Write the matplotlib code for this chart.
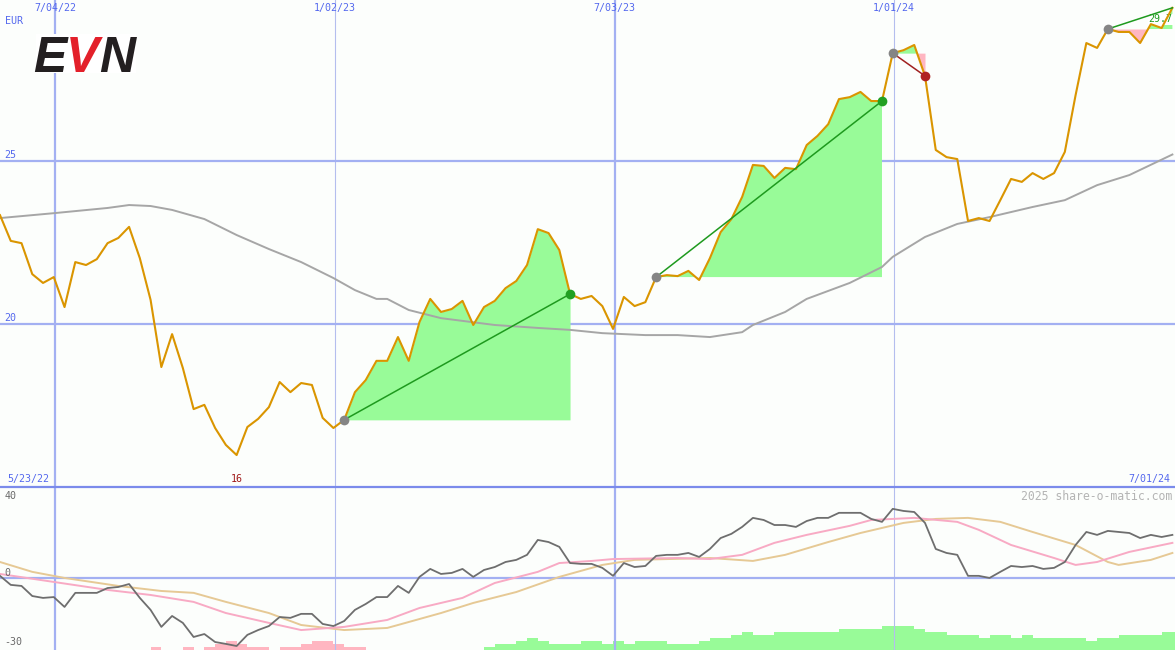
import numpy as np
import pandas as pd
import matplotlib
matplotlib.use('Agg')
import matplotlib.pyplot as plt
from matplotlib.lines import Line2D
from matplotlib.patches import Rectangle

W, H = 1175, 650

# weekly closing prices (EUR)
start = pd.Timestamp('2022-05-29')
close = [23.34, 22.55, 22.48, 21.53, 21.26, 21.44, 20.52, 21.90, 21.81, 21.99,
         22.48, 22.64, 22.98, 22.02, 20.74, 18.68, 19.69, 18.65, 17.39, 17.52,
         16.81, 16.29, 15.98, 16.84, 17.09, 17.45, 18.22, 17.91, 18.19, 18.13,
         17.12, 16.81, 17.06, 17.91, 18.28, 18.87, 18.87, 19.60, 18.87, 20.06,
         20.77, 20.37, 20.46, 20.71, 19.97, 20.52, 20.71, 21.10, 21.32, 21.81,
         22.91, 22.79, 22.27, 20.92, 20.77, 20.86, 20.55, 19.85, 20.83, 20.55,
         20.67, 21.44, 21.50, 21.47, 21.63, 21.35, 22.02, 22.82, 23.22, 23.90,
         24.88, 24.85, 24.48, 24.79, 24.75, 25.49, 25.77, 26.13, 26.90, 26.96,
         27.12, 26.84, 26.84, 28.31, 28.40, 28.56, 27.61, 25.34, 25.12, 25.06,
         23.16, 23.25, 23.16, 23.80, 24.45, 24.36, 24.63, 24.45, 24.63, 25.28,
         27.02, 28.62, 28.47, 29.05, 28.96, 28.96, 28.62, 29.20, 29.08, 29.70]
weeks = pd.date_range(start, periods=len(close), freq='7D')

# long moving average (grey), sampled at these weeks
ma_idx = [0, 5, 10, 12, 14, 16, 19, 22, 25, 28, 31, 33, 35, 36, 38, 41, 46, 50, 53, 56,
          60, 63, 66, 69, 70, 73, 75, 79, 82, 83, 86, 89, 92, 96, 99, 102, 105, 109]
ma_val = [23.25, 23.40, 23.56, 23.65, 23.62, 23.50, 23.22, 22.73, 22.30, 21.90, 21.41, 21.04,
          20.77, 20.77, 20.43, 20.18, 19.97, 19.88, 19.82, 19.72, 19.66, 19.66, 19.60, 19.75,
          19.97, 20.37, 20.77, 21.26, 21.75, 22.06, 22.67, 23.07, 23.28, 23.59, 23.80, 24.26,
          24.57, 25.20]

# trades: entry week, exit week, result
trades = [(32, 53, 'win'), (61, 82, 'win'), (83, 86, 'loss'), (103, 109, 'open')]

# lower panel: momentum (dark grey) per week
mom = [1.0, -3.3, -3.8, -8.6, -9.5, -9.1, -13.8, -7.1, -7.1, -7.1,
       -4.8, -4.3, -2.9, -9.5, -15.2, -23.3, -18.1, -21.4, -28.1, -26.7,
       -30.5, -31.4, -32.4, -27.1, -24.8, -22.9, -18.6, -19.0, -17.1, -17.1,
       -21.9, -22.9, -20.5, -15.2, -12.4, -9.1, -9.1, -3.8, -7.1, 0.5,
       4.3, 1.9, 2.4, 4.3, 0.5, 3.8, 5.2, 7.6, 8.6, 11.0,
       18.1, 17.1, 14.8, 7.1, 6.7, 6.7, 4.8, 1.0, 7.1, 5.2,
       5.7, 10.5, 11.0, 11.0, 11.9, 10.0, 13.8, 19.0, 21.0, 24.3,
       28.6, 27.6, 25.2, 25.2, 24.3, 27.1, 28.6, 28.6, 31.0, 31.0,
       31.0, 28.1, 26.7, 32.9, 31.9, 31.4, 26.2, 13.8, 11.9, 11.0,
       1.0, 1.0, 0.0, 2.9, 5.7, 5.2, 5.7, 4.3, 4.8, 7.6,
       15.7, 21.9, 20.5, 22.4, 21.9, 21.4, 19.0, 20.5, 19.5, 20.5]

pink_idx = [0, 5, 10, 14, 18, 21, 25, 28, 32, 36, 39, 43, 46, 50, 52, 55, 57, 63, 66, 69,
            72, 75, 79, 81, 85, 89, 91, 94, 98, 100, 102, 105, 109]
pink_val = [1.9, -1.9, -5.7, -8.1, -11.4, -16.7, -21.4, -24.8, -23.3, -20.0, -14.3, -9.5,
            -2.4, 2.9, 7.1, 8.1, 9.0, 9.5, 9.0, 11.0, 16.7, 20.5, 24.8, 27.6, 28.6, 26.7,
            22.9, 15.7, 9.5, 6.2, 7.6, 12.4, 16.7]

tan_idx = [0, 3, 6, 11, 15, 18, 21, 25, 28, 32, 36, 37, 41, 44, 48, 52, 56, 59, 66, 70,
           73, 77, 80, 84, 87, 90, 93, 96, 100, 103, 104, 107, 109]
tan_val = [7.6, 2.9, 0.0, -3.8, -6.2, -7.1, -11.4, -16.7, -22.4, -24.8, -23.8, -22.4,
           -16.7, -11.9, -6.7, 0.5, 6.2, 8.6, 9.5, 8.1, 11.0, 17.1, 21.4, 26.2, 28.1, 28.6,
           26.7, 21.9, 15.7, 7.6, 6.2, 8.6, 11.9]

# histogram blocks at the bottom (+ green / - pink)
hist = [0] * 14 + [-1, 0, 0, -1, 0, -1, -2, -3, -2, -1, -1, 0, -1, -1, -2, -3, -3, -2, -1, -1] \
    + [0] * 11 + [1, 2, 2, 3, 4, 3, 2, 2, 2, 3, 3, 2, 3, 2, 3, 3, 3, 2, 2, 2, 3, 4, 4, 5, 6,
                  5, 5, 6, 6, 6, 6, 6, 6, 7, 7, 7, 7, 8, 8, 8, 7, 6, 6, 5, 5, 5, 4, 5, 5, 4,
                  5, 4, 4, 4, 4, 4, 3, 4, 4, 5, 5, 5, 5, 6, 6]

thick_dates = ['2022-07-04', '2023-07-03']
thin_dates = ['2023-01-02', '2024-01-01']
top_labels = {'2022-07-04': '7/04/22', '2023-01-02': '1/02/23',
              '2023-07-03': '7/03/23', '2024-01-01': '1/01/24'}

BG = '#FCFEFC'
GRID = '#A3B0F2'
GRID_THIN = '#B4BEEE'
LABEL = '#5468EE'
MONO = 'DejaVu Sans Mono'

xlim = (start, start + pd.Timedelta(days=764.7))

fig = plt.figure(figsize=(W / 100, H / 100), dpi=100)
fig.patch.set_facecolor(BG)

split = 163 / H
ax = fig.add_axes([0, split, 1, 1 - split])
ax.set_xlim(*xlim)
ax.set_ylim(15.0, 29.94)
ax.set_axis_off()

for d in thick_dates:
    ax.axvline(pd.Timestamp(d), color=GRID, lw=1.6, zorder=0)
for d in thin_dates:
    ax.axvline(pd.Timestamp(d), color=GRID_THIN, lw=0.8, zorder=0)
for lvl in [25, 20]:
    ax.axhline(lvl, color=GRID, lw=1.6, zorder=0)
    ax.text(0.004, lvl + 0.03, str(lvl), transform=ax.get_yaxis_transform(),
            va='bottom', ha='left', color=LABEL, family=MONO, size=7.2)

ax.plot(weeks[ma_idx], ma_val, color='#A6A6A6', lw=1.4, zorder=2)

close_arr = np.array(close)
for e, x, kind in trades:
    xs = weeks[e:x + 1]
    ys = close_arr[e:x + 1]
    base = close[e]
    ax.fill_between(xs, ys, base, where=ys >= base, interpolate=True,
                    color='#98FB98', lw=0, zorder=1)
    ax.fill_between(xs, ys, base, where=ys < base, interpolate=True,
                    color='#FFB6C1', lw=0, zorder=1)

ax.plot(weeks, close, color='#DA9500', lw=1.5, zorder=4)

for e, x, kind in trades:
    lc = '#A02020' if kind == 'loss' else '#1E9A1E'
    ax.plot([weeks[e], weeks[x]], [close[e], close[x]], color=lc, lw=1.1, zorder=5)
    ax.plot(weeks[e], close[e], 'o', color='#858585', ms=7, mec='none', zorder=6)
    if kind != 'open':
        mc = '#B02222' if kind == 'loss' else '#22A022'
        ax.plot(weeks[x], close[x], 'o', color=mc, ms=7, mec='none', zorder=6)

# last price tag
ax.text(weeks[-1], close[-1] - 0.35, f'{close[-1]:.1f}', ha='right', va='center',
        color='#1E9A1E', family=MONO, size=7.2, zorder=3.5,
        bbox=dict(facecolor='white', edgecolor='none', pad=0.5))

ytop = 1 - 8 / 487
for d, lab in top_labels.items():
    ax.text(pd.Timestamp(d), ytop, lab, transform=ax.get_xaxis_transform(),
            ha='center', va='center', color=LABEL, family=MONO, size=7.2)
ax.text(0.004, 1 - 21 / 487, 'EUR', transform=ax.transAxes, ha='left', va='center',
        color=LABEL, family=MONO, size=7.2)
ybot = 8 / 487
ax.text(7 / W, ybot, '5/23/22', transform=ax.transAxes, ha='left', va='center',
        color=LABEL, family=MONO, size=7.2)
ax.text(1 - 5 / W, ybot, '7/01/24', transform=ax.transAxes, ha='right', va='center',
        color=LABEL, family=MONO, size=7.2)
low_i = int(np.argmin(close))
ax.text(weeks[low_i], ybot, f'{close[low_i]:.0f}', transform=ax.get_xaxis_transform(),
        ha='center', va='center', color='#A01818', family=MONO, size=7.2)

# logo on a white patch (hides the grid line behind it)
fig.add_artist(Rectangle((36 / W, 1 - 73 / H), 100 / W, 39 / H, transform=fig.transFigure,
                         facecolor='white', edgecolor='none', zorder=1))
logo = dict(family='Liberation Sans', weight='bold', style='italic', size=36,
            va='baseline', zorder=2)
fig.text(33 / W, 1 - 72 / H, 'E', color='#231F20', **logo)
fig.text(66 / W, 1 - 72 / H, 'V', color='#E3202A', **logo)
fig.text(99 / W, 1 - 72 / H, 'N', color='#231F20', **logo)

# lower panel
axb = fig.add_axes([0, 0, 1, split], label='hist')
axb.set_xlim(*xlim)
axb.set_ylim(0, 163 / 3)
axb.set_axis_off()
hist_arr = np.array(hist)
axb.bar(weeks, np.abs(hist_arr), width=7, align='edge', lw=0,
        color=np.where(hist_arr > 0, '#98FB98', '#FFB6C1'))

ax2 = fig.add_axes([0, 0, 1, split], label='osc')
ax2.set_xlim(*xlim)
ax2.set_ylim(-34.3, 43.3)
ax2.set_axis_off()
for d in thick_dates:
    ax2.axvline(pd.Timestamp(d), color=GRID, lw=1.6, zorder=0)
for d in thin_dates:
    ax2.axvline(pd.Timestamp(d), color=GRID_THIN, lw=0.8, zorder=0)
ax2.axhline(0, color=GRID, lw=1.6, zorder=0)

ax2.plot(weeks[tan_idx], tan_val, color='#E6C995', lw=1.4, zorder=2)
ax2.plot(weeks[pink_idx], pink_val, color='#F8AAC4', lw=1.4, zorder=3)
ax2.plot(weeks, mom, color='#6E6E6E', lw=1.3, zorder=4)

for val, lab in [(39.0, '40'), (2.4, '0'), (-30.5, '-30')]:
    ax2.text(0.004, val, lab, transform=ax2.get_yaxis_transform(), ha='left', va='center',
             color='#6A6A6A', family=MONO, size=7.2)
ax2.text(1 - 3 / W, 39.0, '2025 share-o-matic.com', transform=ax2.get_yaxis_transform(),
         ha='right', va='center', color='#B4B4B4', family=MONO, size=8.3)

fig.add_artist(Line2D([0, 1], [1 - 486.5 / H, 1 - 486.5 / H], transform=fig.transFigure,
                      color='#7B8BEB', lw=1.6))

fig.savefig('out.png', dpi=100, facecolor=BG)
